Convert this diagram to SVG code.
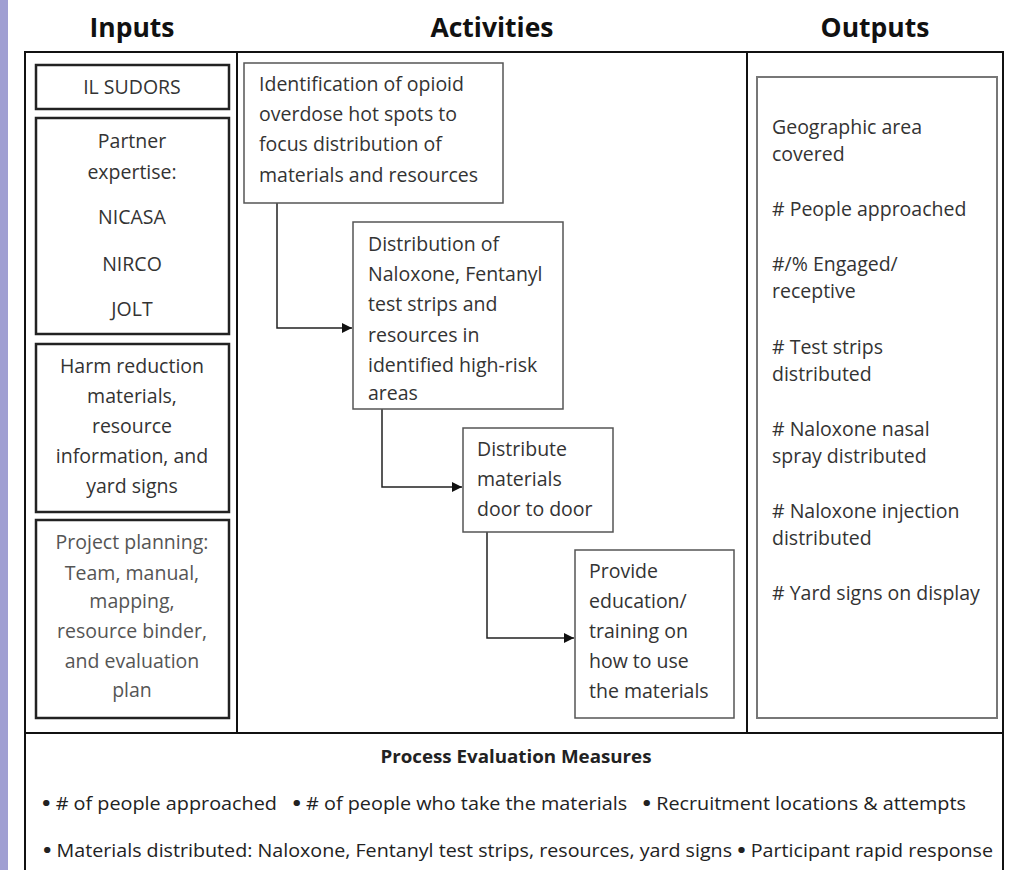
<svg xmlns="http://www.w3.org/2000/svg" width="1009" height="870" viewBox="0 0 1009 870">
<defs>
<style>
.t{font-family:"Open Sans","Liberation Sans",sans-serif;font-size:19.5px;fill:#333}
.g{fill:#555}
.c{text-anchor:middle}
.h{font-family:"Open Sans","Liberation Sans",sans-serif;font-size:26.5px;font-weight:bold;fill:#111;text-anchor:middle}
.b{font-family:"Open Sans","Liberation Sans",sans-serif;font-size:17.5px;fill:#222}
.bu{font-weight:bold;font-size:20px}
.frame{fill:none;stroke:#111;stroke-width:2}
.inbox{fill:#fff;stroke:#222;stroke-width:2.5}
.actbox{fill:#fff;stroke:#555;stroke-width:1.5}
.outbox{fill:#fff;stroke:#777;stroke-width:2}
.conn{fill:none;stroke:#222;stroke-width:1.5}
</style>
<marker id="arr" viewBox="0 0 10 10" refX="10" refY="5" markerWidth="11" markerHeight="10" markerUnits="userSpaceOnUse" orient="auto">
<path d="M0,0 L10,5 L0,10 z" fill="#111"/>
</marker>
</defs>
<rect x="0" y="0" width="1009" height="870" fill="#fff"/>
<rect x="0" y="0" width="8" height="870" fill="#a09fd2"/>

<g id="headers">
<text class="h" x="132" y="37">Inputs</text>
<text class="h" x="492" y="37">Activities</text>
<text class="h" x="875" y="37">Outputs</text>
</g>

<g id="frame">
<path class="frame" d="M25,870 V52 H1003 V870"/>
<line class="frame" x1="237" y1="52" x2="237" y2="733"/>
<line class="frame" x1="747" y1="52" x2="747" y2="733"/>
<line class="frame" x1="25" y1="733" x2="1003" y2="733"/>
</g>

<g id="in-sudors">
<rect class="inbox" x="36" y="65" width="193" height="44"/>
<text class="t c" x="132" y="94">IL SUDORS</text>
</g>
<g id="in-partner">
<rect class="inbox" x="36" y="118" width="193" height="216"/>
<text class="t c" x="132" y="148">Partner</text>
<text class="t c" x="132" y="179">expertise:</text>
<text class="t c" x="132" y="224">NICASA</text>
<text class="t c" x="132" y="271">NIRCO</text>
<text class="t c" x="132" y="316">JOLT</text>
</g>
<g id="in-harm">
<rect class="inbox" x="36" y="344" width="193" height="168"/>
<text class="t c" x="132" y="373">Harm reduction</text>
<text class="t c" x="132" y="403">materials,</text>
<text class="t c" x="132" y="433">resource</text>
<text class="t c" x="132" y="463">information, and</text>
<text class="t c" x="132" y="493">yard signs</text>
</g>
<g id="in-planning">
<rect class="inbox" x="36" y="520" width="193" height="198"/>
<text class="t c g" x="132" y="549">Project planning:</text>
<text class="t c g" x="132" y="580">Team, manual,</text>
<text class="t c g" x="132" y="608">mapping,</text>
<text class="t c g" x="132" y="638">resource binder,</text>
<text class="t c g" x="132" y="668">and evaluation</text>
<text class="t c g" x="132" y="697">plan</text>
</g>

<g id="connectors">
<path class="conn" d="M277,203 V328 H352" marker-end="url(#arr)"/>
<path class="conn" d="M382,409 V487 H462" marker-end="url(#arr)"/>
<path class="conn" d="M487,532 V638 H574" marker-end="url(#arr)"/>
</g>

<g id="act-1">
<rect class="actbox" x="244" y="63" width="259" height="140"/>
<text class="t" x="259" y="91">Identification of opioid</text>
<text class="t" x="259" y="121">overdose hot spots to</text>
<text class="t" x="259" y="151">focus distribution of</text>
<text class="t" x="259" y="182">materials and resources</text>
</g>
<g id="act-2">
<rect class="actbox" x="353" y="222" width="210" height="187"/>
<text class="t" x="368" y="251">Distribution of</text>
<text class="t" x="368" y="281">Naloxone, Fentanyl</text>
<text class="t" x="368" y="311">test strips and</text>
<text class="t" x="368" y="342">resources in</text>
<text class="t" x="368" y="372">identified high-risk</text>
<text class="t" x="368" y="400">areas</text>
</g>
<g id="act-3">
<rect class="actbox" x="463" y="428" width="150" height="104"/>
<text class="t" x="477" y="456">Distribute</text>
<text class="t" x="477" y="486">materials</text>
<text class="t" x="477" y="516">door to door</text>
</g>
<g id="act-4">
<rect class="actbox" x="575" y="550" width="159" height="168"/>
<text class="t" x="589" y="578">Provide</text>
<text class="t" x="589" y="608">education/</text>
<text class="t" x="589" y="638">training on</text>
<text class="t" x="589" y="668">how to use</text>
<text class="t" x="589" y="698">the materials</text>
</g>

<g id="outputs">
<rect class="outbox" x="757" y="77" width="240" height="641"/>
<text class="t" x="772" y="134">Geographic area</text>
<text class="t" x="772" y="161">covered</text>
<text class="t" x="772" y="216"># People approached</text>
<text class="t" x="772" y="271">#/% Engaged/</text>
<text class="t" x="772" y="298">receptive</text>
<text class="t" x="772" y="354"># Test strips</text>
<text class="t" x="772" y="381">distributed</text>
<text class="t" x="772" y="436"># Naloxone nasal</text>
<text class="t" x="772" y="463">spray distributed</text>
<text class="t" x="772" y="518"># Naloxone injection</text>
<text class="t" x="772" y="545">distributed</text>
<text class="t" x="772" y="600"># Yard signs on display</text>
</g>

<g id="process-measures">
<text class="b" x="516" y="763" text-anchor="middle" font-weight="bold" textLength="271" lengthAdjust="spacingAndGlyphs">Process Evaluation Measures</text>
<text class="b" x="42" y="810" xml:space="preserve" textLength="924" lengthAdjust="spacingAndGlyphs"><tspan class="bu">•</tspan> # of people approached   <tspan class="bu">•</tspan> # of people who take the materials   <tspan class="bu">•</tspan> Recruitment locations &amp; attempts</text>
<text class="b" x="43" y="857" textLength="950" lengthAdjust="spacingAndGlyphs"><tspan class="bu">•</tspan> Materials distributed: Naloxone, Fentanyl test strips, resources, yard signs <tspan class="bu">•</tspan> Participant rapid response</text>
</g>
</svg>
